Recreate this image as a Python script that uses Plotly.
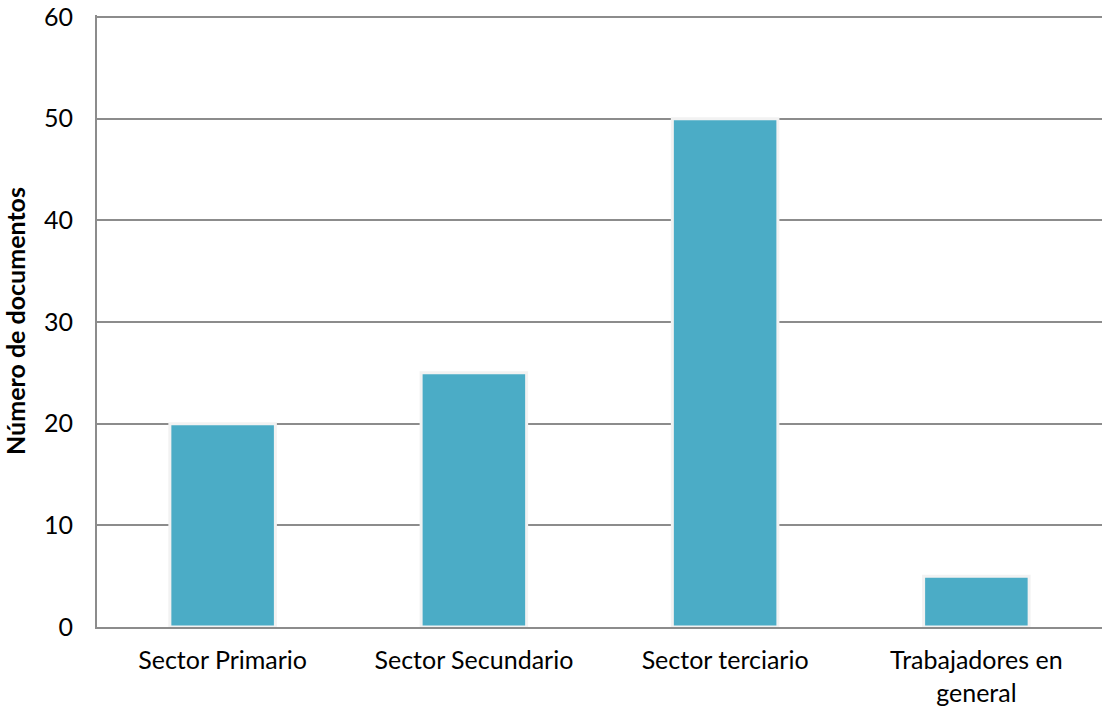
import plotly.graph_objects as go

categories = ["Sector Primario", "Sector Secundario", "Sector terciario", "Trabajadores en<br>general"]
documentos = [20, 25, 50, 5]
y_ticks = [0, 10, 20, 30, 40, 50, 60]

fig = go.Figure()
fig.add_trace(go.Bar(
    x=categories,
    y=documentos,
    marker=dict(color="#4bacc6", line=dict(color="#f2f2f2", width=3)),
    width=0.42,
))

fig.update_layout(
    width=1103, height=708,
    margin=dict(l=97, r=1, t=13, b=80),
    plot_bgcolor="white", paper_bgcolor="white",
    font=dict(family="Lato, Open Sans, sans-serif", size=25, color="black"),
    showlegend=False,
    bargap=0.6,
)
fig.update_xaxes(
    showline=True, linecolor="#8c8c8c", linewidth=2,
    showgrid=False, ticks="", tickfont=dict(size=25),
    ticklabelstandoff=10,
)
fig.update_yaxes(
    range=[0, 60.2], tickvals=y_ticks,
    showgrid=True, gridcolor="#8c8c8c", gridwidth=1.5,
    showline=True, linecolor="#8c8c8c", linewidth=2,
    ticks="", ticklen=0, tickfont=dict(size=25),
    ticklabelstandoff=17, ticklabeloverflow="allow",
    zeroline=False,
    title=dict(text="<b>Número de documentos</b>", font=dict(size=25), standoff=20),
)

fig.write_html("out.html")
